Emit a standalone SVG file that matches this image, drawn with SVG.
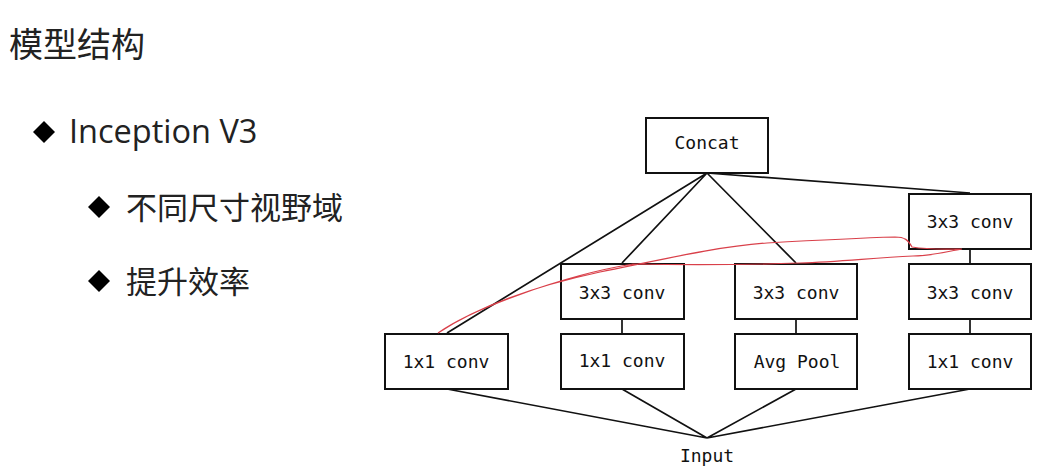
<svg xmlns="http://www.w3.org/2000/svg" width="1055" height="474" viewBox="0 0 1055 474">
<style>
.box{fill:#fff;stroke:#111;stroke-width:2}
.lbl{font-family:"DejaVu Sans Mono","Liberation Mono",monospace;font-size:18px;fill:#111;text-anchor:middle;dominant-baseline:central}
.edge{stroke:#111;stroke-width:1.7;fill:none}
.cn{font-family:"Noto Sans CJK SC","Noto Sans",sans-serif;fill:#222}
.en{font-family:"Open Sans","Noto Sans",sans-serif;fill:#222}
</style>
<rect width="1055" height="474" fill="#fff"/>
<text class="cn" x="9" y="57" font-size="34" fill="#333">模型结构</text>
<g id="bullets">
<polygon points="44,121 55,132 44,143 33,132" fill="#000"/>
<text class="en" x="69" y="143" font-size="32.5">Inception V3</text>
<polygon points="99,196 110,207 99,218 88,207" fill="#000"/>
<text class="cn" x="126" y="219" font-size="31">不同尺寸视野域</text>
<polygon points="99,270 110,281 99,292 88,281" fill="#000"/>
<text class="cn" x="126" y="293" font-size="31">提升效率</text>
</g>
<g id="connectors">
<path class="edge" d="M707,173 L447,333 M707,173 L622,263 M707,173 L796,263 M707,173 L970,193"/>
<path class="edge" d="M622,319 V333 M796,319 V333 M970,319 V333 M970,249 V263"/>
<path class="edge" d="M447,389 L707,438 M622,389 L707,438 M796,389 L707,438 M970,389 L707,438"/>
</g>
<g id="concat"><rect class="box" x="646" y="118" width="122" height="55"/><text class="lbl" x="707" y="142">Concat</text></g>
<g id="conv3x3_top"><rect class="box" x="909" y="194" width="122" height="55"/><text class="lbl" x="970" y="221">3x3 conv</text></g>
<g id="conv3x3_b2"><rect class="box" x="561" y="264" width="123" height="55"/><text class="lbl" x="622" y="292">3x3 conv</text></g>
<g id="conv3x3_b3"><rect class="box" x="735" y="264" width="122" height="55"/><text class="lbl" x="796" y="292">3x3 conv</text></g>
<g id="conv3x3_b4"><rect class="box" x="909" y="264" width="122" height="55"/><text class="lbl" x="970" y="292">3x3 conv</text></g>
<g id="conv1x1_b1"><rect class="box" x="385" y="334" width="123" height="55"/><text class="lbl" x="446" y="361">1x1 conv</text></g>
<g id="conv1x1_b2"><rect class="box" x="561" y="334" width="123" height="55"/><text class="lbl" x="622" y="360">1x1 conv</text></g>
<g id="avgpool"><rect class="box" x="735" y="334" width="122" height="55"/><text class="lbl" x="797" y="361">Avg Pool</text></g>
<g id="conv1x1_b4"><rect class="box" x="909" y="334" width="122" height="55"/><text class="lbl" x="970" y="361">1x1 conv</text></g>
<g id="input"><text class="lbl" x="707" y="455">Input</text></g>
<path d="M438,333 C480,305 540,285 600,272 C660,260 720,246 767,243 C820,240 860,238 895,237 C905,237 908,240 912,247 C930,250 945,249 962,249 C945,252 930,256 913,256 C870,258 840,262 800,263 C740,265 680,265 633,264 C560,276 470,310 438,333 Z" fill="none" stroke="#d9404a" stroke-width="1.2"/>
</svg>
